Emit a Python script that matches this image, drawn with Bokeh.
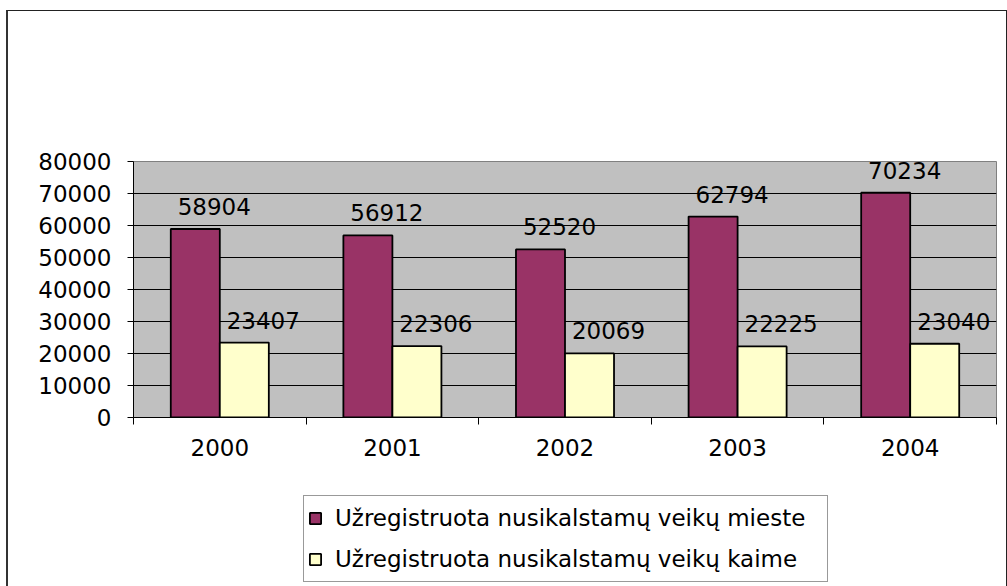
from bokeh.plotting import figure
from bokeh.layouts import column
from bokeh.models import (ColumnDataSource, Range1d, FixedTicker, Legend, LegendItem,
                          LabelSet)
from bokeh.core.properties import value
from bokeh.transform import dodge
from bokeh.embed import file_html
from bokeh.resources import INLINE

years = ["2000", "2001", "2002", "2003", "2004"]
city = [58904, 56912, 52520, 62794, 70234]
village = [23407, 22306, 20069, 22225, 23040]
y_ticks = [0, 10000, 20000, 30000, 40000, 50000, 60000, 70000, 80000]
label_city = "Užregistruota nusikalstamų veikų mieste"
label_village = "Užregistruota nusikalstamų veikų kaime"

FONT = "DejaVu Sans"
FS = "23px"
C_CITY = "#993366"
C_VILLAGE = "#FFFFCC"

xc = [i + 0.5 for i in range(len(years))]
src = ColumnDataSource(dict(
    x=xc, city=city, village=village,
    city_txt=[str(v) for v in city],
    village_txt=[str(v) for v in village],
))

p = figure(width=998, height=469, output_backend="svg", toolbar_location=None,
           x_range=Range1d(0, len(years)), y_range=Range1d(y_ticks[0], y_ticks[-1]),
           min_border_left=125, min_border_right=10, min_border_top=150,
           min_border_bottom=63)

p.background_fill_color = "#C0C0C0"
p.border_fill_color = "white"
p.outline_line_color = "#808080"
p.outline_line_width = 1

bw = 0.284
p.vbar(x=dodge("x", -bw / 2, range=p.x_range), top="city", width=bw, source=src,
       fill_color=C_CITY, line_color="black", line_width=1.8)
p.vbar(x=dodge("x", bw / 2, range=p.x_range), top="village", width=bw, source=src,
       fill_color=C_VILLAGE, line_color="black", line_width=1.8)

for col, txt, off in [("city", "city_txt", -bw / 2), ("village", "village_txt", bw / 2)]:
    ls = LabelSet(x=dodge("x", off, range=p.x_range), y=col, text=txt, source=src,
                  x_offset=19, y_offset=14, text_align="center", text_baseline="alphabetic",
                  text_font=value(FONT), text_font_size=value(FS), text_color="black")
    p.add_layout(ls)

# y axis
p.yaxis.ticker = FixedTicker(ticks=y_ticks)
p.yaxis.axis_line_color = "black"
p.yaxis.major_tick_out = 6
p.yaxis.major_tick_in = 0
p.yaxis.minor_tick_line_color = None
p.yaxis.major_label_standoff = 16
p.yaxis.major_label_text_font = FONT
p.yaxis.major_label_text_font_size = FS
p.yaxis.major_label_text_color = "black"

# x axis: labels at category centres, ticks between categories
p.xaxis.ticker = FixedTicker(ticks=xc, minor_ticks=list(range(len(years) + 1)))
p.xaxis.major_label_overrides = {x: y for x, y in zip(xc, years)}
p.xaxis.major_tick_line_color = None
p.xaxis.minor_tick_line_color = "black"
p.xaxis.minor_tick_out = 7
p.xaxis.minor_tick_in = 0
p.xaxis.axis_line_color = "black"
p.xaxis.major_label_standoff = 14
p.xaxis.major_label_text_font = FONT
p.xaxis.major_label_text_font_size = FS
p.xaxis.major_label_text_color = "black"

p.xgrid.grid_line_color = None
p.ygrid.grid_line_color = "black"
p.ygrid.grid_line_width = 1

# legend figure (its renderers are hidden; only the legend swatches show)
p2 = figure(width=998, height=106, output_backend="svg", toolbar_location=None,
            x_range=Range1d(0, 1), y_range=Range1d(0, 1),
            x_axis_type=None, y_axis_type=None, min_border=0)
p2.outline_line_color = None
p2.background_fill_color = "white"
p2.border_fill_color = "white"
p2.xgrid.grid_line_color = None
p2.ygrid.grid_line_color = None
l1 = p2.vbar(x="x", top="city", width=bw, source=src, visible=False,
             fill_color=C_CITY, line_color="black", line_width=1.8)
l2 = p2.vbar(x="x", top="village", width=bw, source=src, visible=False,
             fill_color=C_VILLAGE, line_color="black", line_width=1.8)

legend = Legend(items=[LegendItem(label=label_city, renderers=[l1]),
                       LegendItem(label=label_village, renderers=[l2])],
                location=(170, 4), orientation="vertical",
                label_text_font=FONT, label_text_font_size=FS, label_text_color="black",
                glyph_width=14, glyph_height=14, label_standoff=13, label_width=488,
                label_height=36, spacing=5, padding=4, margin=0,
                inactive_fill_alpha=0,
                border_line_color="#333333", border_line_width=1,
                background_fill_color="white", background_fill_alpha=1)
p2.add_layout(legend, "center")

layout = column(p, p2, spacing=0,
                styles={"border-top": "1px solid #222", "border-left": "2px solid #333",
                        "border-right": "1px solid #222", "margin-top": "10px",
                        "margin-left": "6px"})

open("out.html", "w").write(file_html(layout, INLINE))
